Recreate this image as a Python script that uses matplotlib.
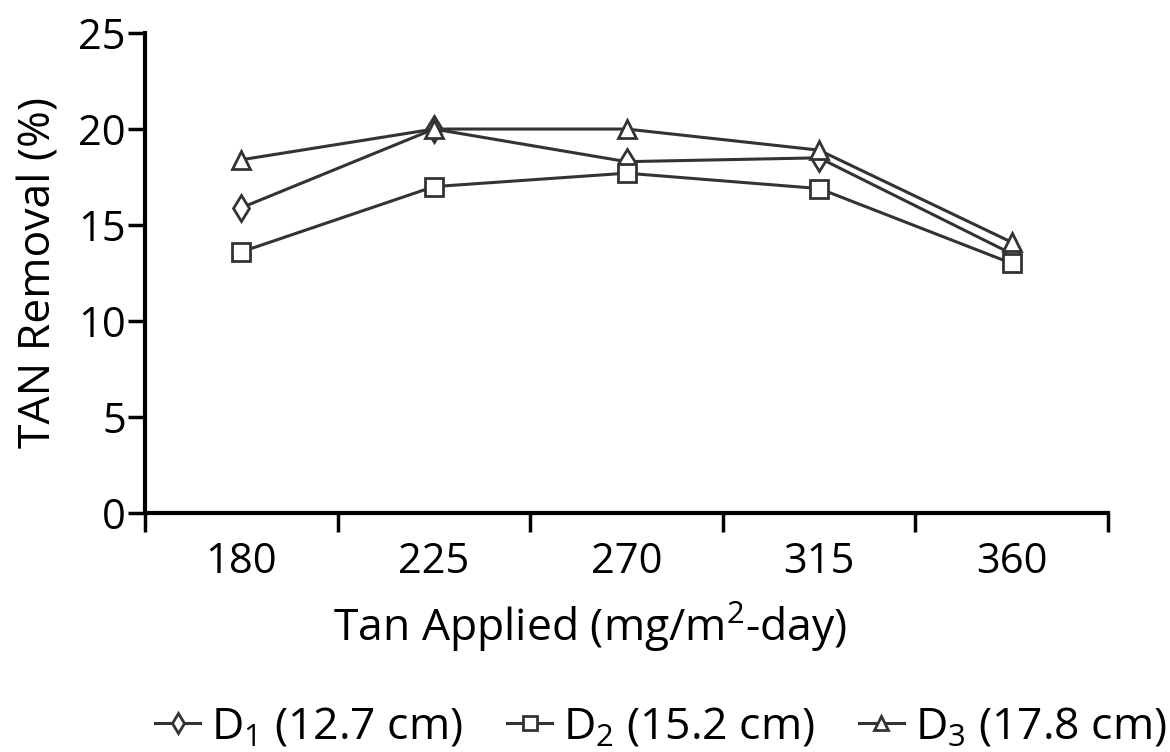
import matplotlib.pyplot as plt
from matplotlib import rcParams

# data
tan_applied = ['180', '225', '270', '315', '360']
d1 = [15.9, 20.0, 18.3, 18.5, 13.5]
d2 = [13.6, 17.0, 17.7, 16.9, 13.0]
d3 = [18.4, 20.0, 20.0, 18.9, 14.1]
labels = [r'$\mathregular{D_1}$ (12.7 cm)', r'$\mathregular{D_2}$ (15.2 cm)', r'$\mathregular{D_3}$ (17.8 cm)']
markers = ['d', 's', '^']

rcParams['font.family'] = ['Open Sans', 'DejaVu Sans']
rcParams['mathtext.fontset'] = 'custom'
rcParams['mathtext.rm'] = 'Open Sans'

fig = plt.figure(figsize=(11.7, 7.52), dpi=100)
ax = fig.add_axes([0.124, 0.318, 0.823, 0.638])

x = range(len(tan_applied))
for vals, m, lab in zip([d1, d2, d3], markers, labels):
    ax.plot(x, vals, color='#333333', linewidth=2.2, marker=m, markersize=13,
            markerfacecolor='white', markeredgecolor='#333333', markeredgewidth=2,
            label=lab)

ax.set_xlim(-0.5, len(tan_applied) - 0.5)
ax.set_ylim(0, 25)
ax.set_yticks([0, 5, 10, 15, 20, 25])
# ticks sit between categories, labels at the centres
ax.set_xticks([i - 0.5 for i in range(len(tan_applied) + 1)])
ax.set_xticklabels([])
ax.set_xticks(list(x), minor=True)
ax.set_xticklabels(tan_applied, minor=True)
ax.tick_params(axis='x', which='minor', length=0, pad=20, labelsize=30)
ax.tick_params(axis='x', which='major', length=14, width=2.5, direction='out')
ax.tick_params(axis='y', length=12, width=2.5, direction='out', labelsize=30, pad=2)

for s in ['top', 'right']:
    ax.spines[s].set_visible(False)
for s in ['left', 'bottom']:
    ax.spines[s].set_linewidth(3)

ax.set_xlabel('Tan Applied (mg/m$^2$-day)', fontsize=32, labelpad=12, x=0.462)
ax.set_ylabel('TAN Removal (%)', fontsize=32, labelpad=12)

fig.legend(loc='lower center', bbox_to_anchor=(0.565, -0.05), ncol=3, frameon=False,
           fontsize=32, handlelength=1.0, handletextpad=0.25, columnspacing=1.0,
           markerscale=0.75)

fig.savefig('out.png', dpi=100)
